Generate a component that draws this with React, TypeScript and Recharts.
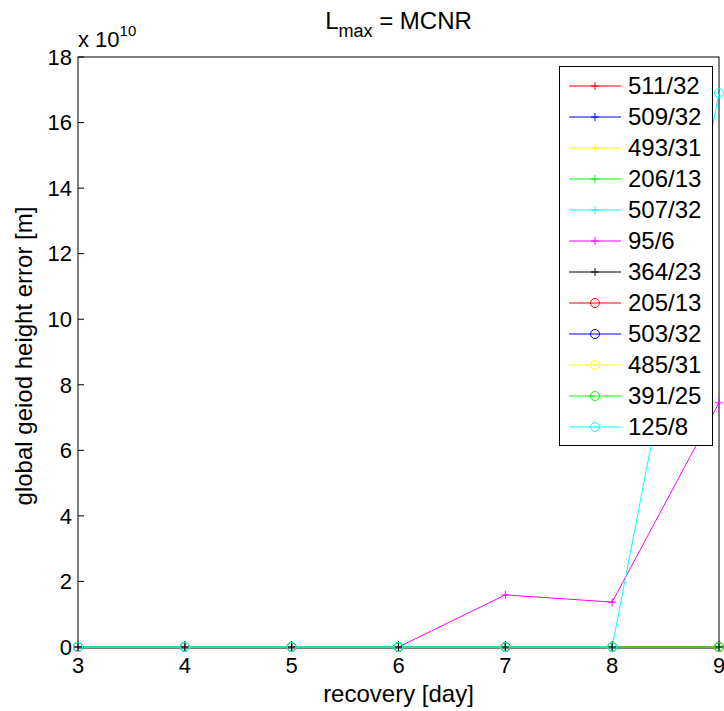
import React from "react";
import { LineChart, Line, XAxis, YAxis } from "recharts";

const days = [3, 4, 5, 6, 7, 8, 9];
const xTicks = [3, 4, 5, 6, 7, 8, 9];
const yTicks = [0, 2, 4, 6, 8, 10, 12, 14, 16, 18];
const SCALE = 1e10;

const seriesNames = [
  "511/32", "509/32", "493/31", "206/13", "507/32", "95/6",
  "364/23", "205/13", "503/32", "485/31", "391/25", "125/8",
];
const seriesColors = [
  "#ff0000", "#0000ff", "#ffff00", "#00ff00", "#00ffff", "#ff00ff",
  "#000000", "#ff0000", "#0000ff", "#ffff00", "#00ff00", "#00ffff",
];
const seriesMarkers = [
  "plus", "plus", "plus", "plus", "plus", "plus",
  "plus", "circle", "circle", "circle", "circle", "circle",
];

// values in units of 1e10 m
const s511 = [0, 0, 0, 0, 0, 0, 0];
const s509 = [0, 0, 0, 0, 0, 0, 0];
const s493 = [0, 0, 0, 0, 0, 0, 0];
const s206 = [0, 0, 0, 0, 0, 0, 0];
const s507 = [0, 0, 0, 0, 0, 0, 0];
const s95 = [0, 0, 0, 0, 1.59, 1.37, 7.45];
const s364 = [0, 0, 0, 0, 0, 0, 0];
const s205 = [0, 0, 0, 0, 0, 0, 0];
const s503 = [0, 0, 0, 0, 0, 0, 0];
const s485 = [0, 0, 0, 0, 0, 0, 0];
const s391 = [0, 0, 0, 0, 0, 0, 0];
const s125 = [0, 0, 0, 0, 0, 0, 16.9];

const seriesValues = [s511, s509, s493, s206, s507, s95, s364, s205, s503, s485, s391, s125];

const data = days.map((d, i) => {
  const row: Record<string, number> = { day: d };
  seriesValues.forEach((vals, k) => {
    row["s" + k] = vals[i] * SCALE;
  });
  return row;
});

const FONT = "'Liberation Sans', Arial, Helvetica, sans-serif";

function marker(kind: string, color: string) {
  return (props: any) => {
    const { cx, cy, index } = props;
    if (cx == null || cy == null) return <g key={index} />;
    if (kind === "plus") {
      return (
        <g key={index}>
          <line x1={cx - 4} y1={cy} x2={cx + 4} y2={cy} stroke={color} strokeWidth={1} />
          <line x1={cx} y1={cy - 4} x2={cx} y2={cy + 4} stroke={color} strokeWidth={1} />
        </g>
      );
    }
    return <circle key={index} cx={cx} cy={cy} r={4.5} fill="none" stroke={color} strokeWidth={1} />;
  };
}

function LegendSymbol({ kind, color }: { kind: string; color: string }) {
  return (
    <svg width={56} height={14} style={{ display: "block" }}>
      <line x1={0} y1={7} x2={52} y2={7} stroke={color} strokeWidth={1} />
      {kind === "plus" ? (
        <g>
          <line x1={22} y1={7} x2={30} y2={7} stroke={color} />
          <line x1={26} y1={3} x2={26} y2={11} stroke={color} />
        </g>
      ) : (
        <circle cx={26} cy={7} r={4.5} fill="none" stroke={color} />
      )}
    </svg>
  );
}

export default function App() {
  const tickStyle = { fontSize: 22, fill: "#000", fontFamily: FONT };
  return (
    <div style={{ position: "absolute", left: 0, top: 0, width: 724, height: 711, background: "#fff", fontFamily: FONT }}>
      {/* axes box, behind the data like in MATLAB */}
      <svg width={724} height={711} style={{ position: "absolute", left: 0, top: 0 }}>
        <rect x={78} y={57} width={641} height={591} fill="none" stroke="#000" strokeWidth={1} />
      </svg>

      <LineChart
        width={724}
        height={711}
        data={data}
        margin={{ top: 56, right: 4, bottom: 0, left: 0 }}
      >
        <XAxis
          dataKey="day"
          type="number"
          domain={[3, 9]}
          ticks={xTicks}
          height={64}
          tickSize={-6}
          tickMargin={16}
          stroke="#000"
          axisLine={false}
          tick={tickStyle}
          interval={0}
        />
        <XAxis
          xAxisId="top"
          orientation="top"
          type="number"
          domain={[3, 9]}
          ticks={xTicks}
          height={1}
          tickSize={-6}
          stroke="#000"
          axisLine={false}
          tick={false}
          interval={0}
        />
        <YAxis
          type="number"
          domain={[0, 18 * SCALE]}
          ticks={yTicks.map((t) => t * SCALE)}
          width={78}
          tickSize={-6}
          tickMargin={12}
          stroke="#000"
          axisLine={false}
          tick={tickStyle}
          interval={0}
          tickFormatter={(v: number) => String(Math.round(v / SCALE))}
        />
        <YAxis
          yAxisId="right"
          orientation="right"
          type="number"
          domain={[0, 18 * SCALE]}
          ticks={yTicks.map((t) => t * SCALE)}
          width={1}
          tickSize={-6}
          stroke="#000"
          axisLine={false}
          tick={false}
          interval={0}
        />
        {seriesNames.map((name, k) => (
          <Line
            key={name}
            name={name}
            dataKey={"s" + k}
            type="linear"
            stroke={seriesColors[k]}
            strokeWidth={1}
            dot={marker(seriesMarkers[k], seriesColors[k])}
            activeDot={false}
            isAnimationActive={false}
          />
        ))}
      </LineChart>

      {/* title */}
      <div style={{ position: "absolute", left: 78, width: 641, top: 9, textAlign: "center", fontSize: 24, lineHeight: "24px", whiteSpace: "nowrap" }}>
        L<span style={{ position: "relative", top: 8, fontSize: 18 }}>max</span> = MCNR
      </div>

      {/* exponent */}
      <div style={{ position: "absolute", left: 78, top: 29, fontSize: 22, lineHeight: "22px", whiteSpace: "nowrap" }}>
        x 10<span style={{ position: "relative", top: -11, fontSize: 15 }}>10</span>
      </div>

      {/* y label */}
      <div
        style={{
          position: "absolute",
          left: 24,
          top: 356,
          transform: "translate(-50%, -50%) rotate(-90deg)",
          fontSize: 24,
          lineHeight: "24px",
          whiteSpace: "nowrap",
        }}
      >
        global geiod height error [m]
      </div>

      {/* x label */}
      <div style={{ position: "absolute", left: 78, width: 641, top: 682, textAlign: "center", fontSize: 24, lineHeight: "24px", whiteSpace: "nowrap" }}>
        recovery [day]
      </div>

      {/* legend */}
      <div
        style={{
          position: "absolute",
          left: 559,
          top: 66,
          width: 152,
          height: 378,
          border: "1px solid #000",
          background: "#fff",
          boxSizing: "content-box",
        }}
      >
        {seriesNames.map((name, k) => (
          <div
            key={name}
            style={{ position: "absolute", left: 9, top: 6 + k * 31, height: 26, display: "flex", alignItems: "center" }}
          >
            <LegendSymbol kind={seriesMarkers[k]} color={seriesColors[k]} />
            <span style={{ fontSize: 24, lineHeight: "24px", marginLeft: 3 }}>{name}</span>
          </div>
        ))}
      </div>
    </div>
  );
}
